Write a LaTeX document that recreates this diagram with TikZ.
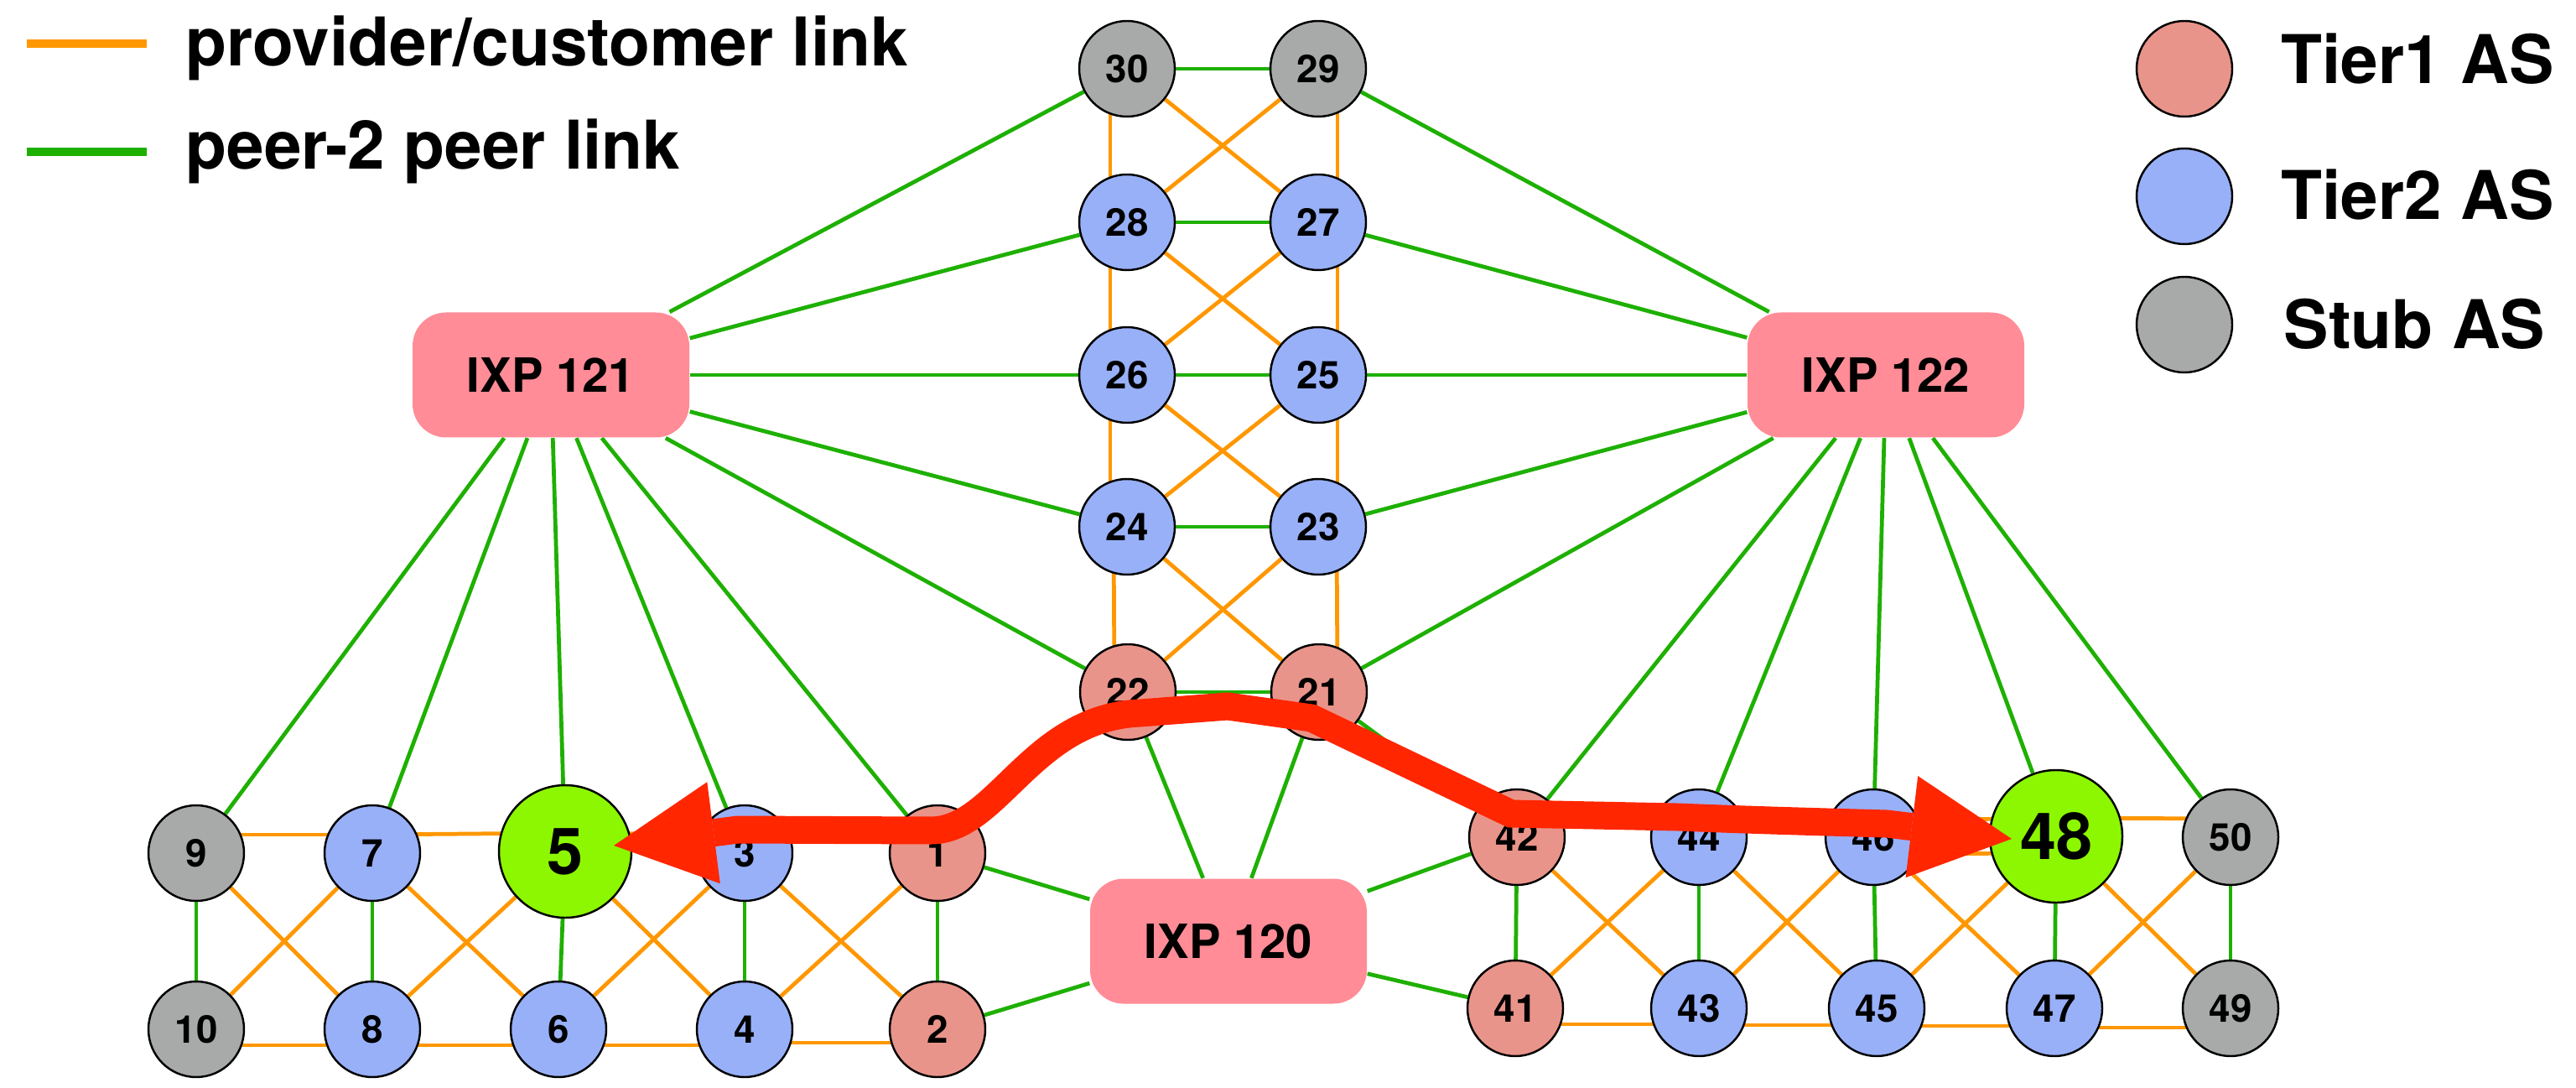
\documentclass[tikz,border=0pt]{standalone}
\usepackage{fontspec}
\setmainfont{TeX Gyre Heros}
\usetikzlibrary{arrows.meta}
\pgfdeclarelayer{background}
\pgfsetlayers{background,main}
\definecolor{tieronecol}{RGB}{233,148,138}
\definecolor{tiertwocol}{RGB}{152,176,248}
\definecolor{stubcol}{RGB}{167,170,168}
\definecolor{destcol}{RGB}{140,247,0}
\definecolor{ixpcol}{RGB}{255,140,150}
\definecolor{pccol}{RGB}{255,151,0}
\definecolor{ppcol}{RGB}{30,176,0}
\definecolor{routecol}{RGB}{255,38,0}

\begin{document}
\begin{tikzpicture}[
        as/.style={draw, circle, line width=0.7pt, minimum size=1.14cm, inner sep=0pt,
            font=\bfseries\fontsize{13}{15}\selectfont},
        tierone/.style={as, fill=tieronecol},
        tiertwo/.style={as, fill=tiertwocol},
        stub/.style={as, fill=stubcol},
        dest/.style={as, fill=destcol, minimum size=1.58cm, font=\bfseries\fontsize{22}{26}\selectfont},
        ixp/.style={fill=ixpcol, rounded corners=0.4cm, minimum width=3.3cm, minimum height=1.49cm,
            font=\bfseries\fontsize{16}{19}\selectfont},
        pc/.style={line width=1.35pt, pccol},
        pp/.style={line width=1.35pt, ppcol},
        legtext/.style={anchor=base west, inner sep=0pt, font=\bfseries\fontsize{22.8}{27}\selectfont},
        route/.style={line width=0.33cm, routecol,
            arrows={Triangle[length=1.2cm,width=1.22cm,line width=0pt]-Triangle[length=1.2cm,width=1.22cm,line width=0pt]}}
    ]
        \useasboundingbox (0,0) rectangle (30.72,-12.97);

        \node[stub] (30) at (13.44,-0.82) {30};
        \node[stub] (29) at (15.72,-0.82) {29};
        \node[tiertwo] (28) at (13.44,-2.65) {28};
        \node[tiertwo] (27) at (15.72,-2.65) {27};
        \node[tiertwo] (26) at (13.44,-4.47) {26};
        \node[tiertwo] (25) at (15.72,-4.47) {25};
        \node[tiertwo] (24) at (13.44,-6.28) {24};
        \node[tiertwo] (23) at (15.72,-6.28) {23};
        \node[tierone] (22) at (13.45,-8.25) {22};
        \node[tierone] (21) at (15.73,-8.25) {21};

        \node[ixp] (ixp121) at (6.57,-4.47) {IXP 121};
        \node[ixp] (ixp122) at (22.49,-4.47) {IXP 122};
        \node[ixp] (ixp120) at (14.65,-11.22) {IXP 120};

        \node[stub] (9) at (2.34,-10.17) {9};
        \node[tiertwo] (7) at (4.44,-10.17) {7};
        \node[dest] (5) at (6.74,-10.15) {5};
        \node[tiertwo] (3) at (8.88,-10.17) {3};
        \node[tierone] (1) at (11.18,-10.17) {1};
        \node[stub] (10) at (2.34,-12.27) {10};
        \node[tiertwo] (8) at (4.44,-12.27) {8};
        \node[tiertwo] (6) at (6.66,-12.27) {6};
        \node[tiertwo] (4) at (8.88,-12.27) {4};
        \node[tierone] (2) at (11.18,-12.27) {2};

        \node[tierone] (42) at (18.09,-9.98) {42};
        \node[tiertwo] (44) at (20.26,-9.98) {44};
        \node[tiertwo] (46) at (22.34,-9.98) {46};
        \node[dest] (48) at (24.52,-9.97) {48};
        \node[stub] (50) at (26.60,-9.98) {50};
        \node[tierone] (41) at (18.07,-12.02) {41};
        \node[tiertwo] (43) at (20.26,-12.02) {43};
        \node[tiertwo] (45) at (22.38,-12.02) {45};
        \node[tiertwo] (47) at (24.50,-12.02) {47};
        \node[stub] (49) at (26.60,-12.02) {49};

        \begin{pgfonlayer}{background}
        \path[draw,pp] (30) -- (29);
        \path[draw,pp] (28) -- (27);
        \path[draw,pp] (26) -- (25);
        \path[draw,pp] (24) -- (23);
        \path[draw,pp] (22) -- (21);
        \path[draw,pc] ([xshift=-2mm]30.center) -- ([xshift=-2mm]28.center);
        \path[draw,pc] ([xshift=-2mm]28.center) -- ([xshift=-2mm]26.center);
        \path[draw,pc] ([xshift=-2mm]26.center) -- ([xshift=-2mm]24.center);
        \path[draw,pc] ([xshift=-1.6mm]24.center) -- ([xshift=-1.6mm]22.center);
        \path[draw,pc] ([xshift=2.3mm]29.center) -- ([xshift=2.3mm]27.center);
        \path[draw,pc] ([xshift=2.3mm]27.center) -- ([xshift=2.3mm]25.center);
        \path[draw,pc] ([xshift=2.3mm]25.center) -- ([xshift=2.3mm]23.center);
        \path[draw,pc] ([xshift=2.2mm]23.center) -- ([xshift=2.2mm]21.center);
        \path[draw,pc] (30) -- (27);
        \path[draw,pc] (29) -- (28);
        \path[draw,pc] (28) -- (25);
        \path[draw,pc] (27) -- (26);
        \path[draw,pc] (26) -- (23);
        \path[draw,pc] (25) -- (24);
        \path[draw,pc] (24) -- (21);
        \path[draw,pc] (23) -- (22);

        \path[draw,pp] (ixp121) -- (30);
        \path[draw,pp] (ixp121) -- (28);
        \path[draw,pp] (ixp121) -- (26);
        \path[draw,pp] (ixp121) -- (24);
        \path[draw,pp] (ixp121) -- (22);
        \path[draw,pp] (ixp121) -- (9);
        \path[draw,pp] (ixp121) -- (7);
        \path[draw,pp] (ixp121) -- (5);
        \path[draw,pp] (ixp121) -- (3);
        \path[draw,pp] (ixp121) -- (1);
        \path[draw,pp] (ixp122) -- (29);
        \path[draw,pp] (ixp122) -- (27);
        \path[draw,pp] (ixp122) -- (25);
        \path[draw,pp] (ixp122) -- (23);
        \path[draw,pp] (ixp122) -- (21);
        \path[draw,pp] (ixp122) -- (42);
        \path[draw,pp] (ixp122) -- (44);
        \path[draw,pp] (ixp122) -- (46);
        \path[draw,pp] (ixp122) -- (48);
        \path[draw,pp] (ixp122) -- (50);
        \path[draw,pp] (ixp120) -- (22);
        \path[draw,pp] (ixp120) -- (21);
        \path[draw,pp] (ixp120) -- (1);
        \path[draw,pp] (ixp120) -- (2);
        \path[draw,pp] (ixp120) -- (42);
        \path[draw,pp] (ixp120) -- (41);
        \path[draw,pp] (1) -- (22);
        \path[draw,pp] (21) -- (42);

        \path[draw,pp] (9) -- (10);
        \path[draw,pp] (7) -- (8);
        \path[draw,pp] (5) -- (6);
        \path[draw,pp] (3) -- (4);
        \path[draw,pp] (1) -- (2);
        \path[draw,pc] ([yshift=2.2mm]9.center) -- ([yshift=2.2mm]7.center);
        \path[draw,pc] ([yshift=2.2mm]7.center) -- ([yshift=2.2mm]5.center);
        \path[draw,pc] ([yshift=2.2mm]5.center) -- ([yshift=2.2mm]3.center);
        \path[draw,pc] ([yshift=2.2mm]3.center) -- ([yshift=2.2mm]1.center);
        \path[draw,pc] ([yshift=-1.9mm]10.center) -- ([yshift=-1.9mm]8.center);
        \path[draw,pc] ([yshift=-1.9mm]8.center) -- ([yshift=-1.9mm]6.center);
        \path[draw,pc] ([yshift=-1.9mm]6.center) -- ([yshift=-1.9mm]4.center);
        \path[draw,pc] ([yshift=-1.6mm]4.center) -- ([yshift=-1.6mm]2.center);
        \path[draw,pc] (9) -- (8);
        \path[draw,pc] (7) -- (10);
        \path[draw,pc] (7) -- (6);
        \path[draw,pc] (5) -- (8);
        \path[draw,pc] (5) -- (4);
        \path[draw,pc] (3) -- (6);
        \path[draw,pc] (3) -- (2);
        \path[draw,pc] (1) -- (4);

        \path[draw,pp] (42) -- (41);
        \path[draw,pp] (44) -- (43);
        \path[draw,pp] (46) -- (45);
        \path[draw,pp] (48) -- (47);
        \path[draw,pp] (50) -- (49);
        \path[draw,pc] ([yshift=2.2mm]42.center) -- ([yshift=2.2mm]44.center);
        \path[draw,pc] ([yshift=2.2mm]44.center) -- ([yshift=2.2mm]46.center);
        \path[draw,pc] ([yshift=2.1mm]46.center) -- ([yshift=2.1mm]48.center);
        \path[draw,pc] ([yshift=-2mm]46.center) -- ([yshift=-2mm]48.center);
        \path[draw,pc] ([yshift=2.2mm]48.center) -- ([yshift=2.2mm]50.center);
        \path[draw,pc] ([yshift=-1.9mm]41.center) -- ([yshift=-1.9mm]43.center);
        \path[draw,pc] ([yshift=-2mm]43.center) -- ([yshift=-2mm]45.center);
        \path[draw,pc] ([yshift=-2.1mm]45.center) -- ([yshift=-2.1mm]47.center);
        \path[draw,pc] ([yshift=-2.3mm]47.center) -- ([yshift=-2.3mm]49.center);
        \path[draw,pc] (42) -- (43);
        \path[draw,pc] (44) -- (41);
        \path[draw,pc] (44) -- (45);
        \path[draw,pc] (46) -- (43);
        \path[draw,pc] (46) -- (47);
        \path[draw,pc] (48) -- (45);
        \path[draw,pc] (48) -- (49);
        \path[draw,pc] (50) -- (47);
        \end{pgfonlayer}

        \coordinate (tipl) at (7.32,-10.08);
        \coordinate (tipr) at (23.99,-10.00);
        \path[draw,route] (tipl) -- (8.8,-9.89) -- (11.1,-9.90)
            .. controls (11.9,-9.90) and (12.3,-8.55) .. (13.6,-8.50)
            -- (14.64,-8.42) -- (15.64,-8.56) -- (18.02,-9.70) -- (20.0,-9.74)
            .. controls (21.0,-9.78) and (21.8,-9.80) .. (22.5,-9.82) -- (tipr);

        \path[draw,pc,line width=0.1cm] (0.32,-0.52) -- (1.75,-0.52);
        \path[draw,pp,line width=0.1cm] (0.32,-1.81) -- (1.75,-1.81);
        \node[legtext] (legpc) at (2.21,-0.79) {provider/customer link};
        \node[legtext] (legpp) at (2.21,-2.02) {peer-2 peer link};

        \node[tierone] (keyone) at (26.05,-0.82) {};
        \node[tiertwo] (keytwo) at (26.05,-2.34) {};
        \node[stub] (keystub) at (26.05,-3.87) {};
        \node[legtext] (legone) at (27.20,-1.00) {Tier1 AS};
        \node[legtext] (legtwo) at (27.20,-2.62) {Tier2 AS};
        \node[legtext] (legstub) at (27.23,-4.16) {Stub AS};
    \end{tikzpicture}
\end{document}
